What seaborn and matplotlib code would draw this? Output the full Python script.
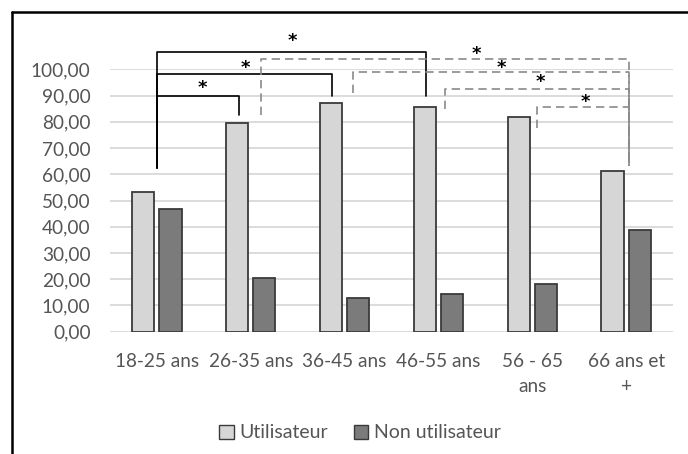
import matplotlib.pyplot as plt
import pandas as pd
import seaborn as sns
from matplotlib.lines import Line2D
from matplotlib.patches import Patch
from matplotlib.ticker import FuncFormatter

ages = ["18-25 ans", "26-35 ans", "36-45 ans", "46-55 ans", "56 - 65\nans", "66 ans et\n+"]
groups = ["Utilisateur", "Non utilisateur"]
utilisateur = [53.3, 79.7, 87.0, 85.6, 81.7, 61.1]
non_utilisateur = [46.7, 20.3, 13.0, 14.4, 18.3, 38.9]

# significance brackets: (x left, x right, top, left leg bottom, right leg bottom)
solid_brackets = [
    (0.0, 0.872, 90.0, 62.4, 82.5),
    (0.0, 1.869, 98.3, 62.4, 89.7),
    (0.0, 2.869, 106.7, 62.4, 89.7),
]
dashed_brackets = [
    (1.106, 5.03, 103.9, 82.5, 63.1),
    (2.085, 5.03, 99.1, 91.0, 63.1),
    (3.071, 5.03, 92.6, 84.7, 63.1),
    (4.05, 5.03, 85.7, 77.5, 63.1),
]
star_x = [0.479, 0.947, 1.447, 3.404, 3.67, 4.085, 4.564]
star_y = [93.0, 100.6, 110.8, 105.9, 100.6, 95.0, 87.4]

sns.set_theme(style="white")
plt.rcParams["font.family"] = ["Lato", "DejaVu Sans"]

df = pd.DataFrame({
    "age": ages * 2,
    "groupe": [groups[0]] * len(ages) + [groups[1]] * len(ages),
    "pct": utilisateur + non_utilisateur,
})

colors = ["#d6d6d6", "#7b7b7b"]
text_color = "#555555"

fig = plt.figure(figsize=(6.88, 4.54), dpi=100)
ax = fig.add_axes([110 / 688, (454 - 331.7) / 454, 563 / 688, 262.4 / 454])
sns.barplot(data=df, x="age", y="pct", hue="groupe", order=ages, hue_order=groups,
            palette=colors, width=0.576, gap=0.18, edgecolor="#3a3a3a", linewidth=1.3,
            errorbar=None, ax=ax, zorder=3)

ax.set_xlim(-0.5, 5.5)
ax.set_ylim(0, 100)
ax.set_yticks(range(0, 101, 10))
ax.yaxis.set_major_formatter(FuncFormatter(lambda v, _: f"{v:.2f}".replace(".", ",")))
ax.set_xticks(range(len(ages)))
ax.set_xticklabels(ages, linespacing=1.55)
ax.yaxis.grid(True, color="#d9d9d9", linewidth=1.3, zorder=0)
ax.set_axisbelow(True)
for s in ax.spines.values():
    s.set_visible(False)
ax.set_xlabel("")
ax.set_ylabel("")
ax.tick_params(axis="y", length=0, labelsize=13.7, labelcolor=text_color, pad=14)
ax.tick_params(axis="x", length=0, labelsize=13.7, labelcolor=text_color, pad=15.5)

for xl, xr, top, yl, yr in solid_brackets:
    ax.plot([xl, xl, xr, xr], [yl, top, top, yr], color="black", lw=1.2, clip_on=False, zorder=4)
for xl, xr, top, yl, yr in dashed_brackets:
    ax.plot([xl, xl, xr, xr], [yl, top, top, yr], color="#8a8a8a", lw=1.2,
            linestyle=(0, (5, 3)), clip_on=False, zorder=4)
for x, y in zip(star_x, star_y):
    ax.text(x, y, "*", ha="center", va="center", fontsize=13, fontweight="bold",
            color="black", family="DejaVu Sans", clip_on=False)

ax.get_legend().remove()
handles = [Patch(facecolor=c, edgecolor="#3a3a3a", linewidth=1.0) for c in colors]
leg = fig.legend(handles, groups, loc="center", bbox_to_anchor=(360 / 688, 21 / 454),
                 ncol=2, frameon=False, fontsize=14, handlelength=0.75, handleheight=0.75,
                 handletextpad=0.3, columnspacing=1.3)
for t in leg.get_texts():
    t.set_color(text_color)

# outer chart frame (cropped on the right and bottom)
fig.add_artist(Line2D([12 / 688, 1], [1 - 12 / 454] * 2, transform=fig.transFigure,
                      color="black", lw=1.8))
fig.add_artist(Line2D([12 / 688] * 2, [0, 1 - 12 / 454], transform=fig.transFigure,
                      color="black", lw=1.8))

fig.savefig("out.png", dpi=100)
